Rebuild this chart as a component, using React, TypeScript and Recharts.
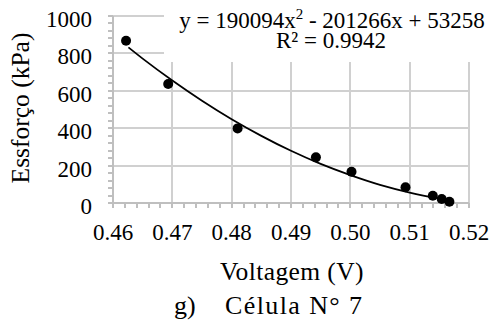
import React from "react";
import {
  ComposedChart,
  XAxis,
  YAxis,
  Line,
  Scatter,
  CartesianGrid,
} from "recharts";

// Measured points (Voltagem V, Esforço kPa)
const voltage = [0.4622, 0.4693, 0.481, 0.4942, 0.5002, 0.5093, 0.5139, 0.5154, 0.5167];
const stress = [868, 636, 399, 244, 167, 84, 39, 21, 7];

// Polynomial trend line
const trendVoltage = [0.4626, 0.465, 0.47, 0.475, 0.48, 0.485, 0.49, 0.495, 0.5, 0.505, 0.51, 0.515, 0.517];
const trendStress = [832, 772, 655, 547, 448, 359, 279, 209, 149, 97, 56, 24, 13];

// Axis ticks (major + minor)
const xTicks = [
  0.46, 0.462, 0.464, 0.466, 0.468, 0.47, 0.472, 0.474, 0.476, 0.478,
  0.48, 0.482, 0.484, 0.486, 0.488, 0.49, 0.492, 0.494, 0.496, 0.498,
  0.5, 0.502, 0.504, 0.506, 0.508, 0.51, 0.512, 0.514, 0.516, 0.518, 0.52,
];
const xMajor = [0.46, 0.47, 0.48, 0.49, 0.5, 0.51, 0.52];
const xMajorLabels = ["0.46", "0.47", "0.48", "0.49", "0.50", "0.51", "0.52"];
const yTicks = [
  0, 40, 80, 120, 160, 200, 240, 280, 320, 360, 400, 440, 480, 520, 560, 600,
  640, 680, 720, 760, 800, 840, 880, 920, 960, 1000,
];
const yMajor = [0, 200, 400, 600, 800, 1000];
const gridY = [200, 400, 600, 800, 1000];
const gridX = [0.47, 0.48, 0.49, 0.5, 0.51, 0.52];

const pointData = voltage.map((x, i) => ({ x, y: stress[i] }));
const trendData = trendVoltage.map((x, i) => ({ x, y: trendStress[i] }));

const FONT = '"Liberation Serif", "Times New Roman", serif';
const GRID = "#d0d0d0";
const AXIS = "#bfbfbf";

const XTick = (props: any) => {
  const v = props.payload.value;
  const idx = xMajor.findIndex((m) => Math.abs(m - v) < 1e-6);
  if (idx < 0) return null;
  return (
    <text x={props.x} y={props.y + 30} textAnchor="middle" fontFamily={FONT} fontSize={23} fill="#000">
      {xMajorLabels[idx]}
    </text>
  );
};

const YTick = (props: any) => {
  const v = props.payload.value;
  if (!yMajor.includes(v)) return null;
  return (
    <text x={props.x - 14} y={props.y + 11} textAnchor="end" fontFamily={FONT} fontSize={23} fill="#000">
      {v}
    </text>
  );
};

const Dot = (props: any) => <circle cx={props.cx} cy={props.cy} r={5} fill="#000" />;

const css = `
.recharts-cartesian-grid line, .recharts-cartesian-axis line { shape-rendering: crispEdges; }
`;

export default function App() {
  return (
    <div style={{ position: "absolute", left: 0, top: 0, width: 497, height: 327, background: "#fff" }}>
      <style>{css}</style>
      <ComposedChart width={497} height={327} margin={{ top: 16, right: 28, bottom: 94, left: 0 }}>
        <CartesianGrid
          stroke={GRID}
          strokeWidth={2}
          horizontalValues={gridY}
          verticalValues={gridX}
        />
        <XAxis
          dataKey="x"
          type="number"
          domain={[0.46, 0.52]}
          ticks={xTicks}
          interval={0}
          tick={<XTick />}
          tickSize={5}
          height={30}
          axisLine={{ stroke: AXIS, strokeWidth: 2 }}
          tickLine={{ stroke: AXIS, strokeWidth: 2 }}
        />
        <YAxis
          type="number"
          domain={[0, 1000]}
          ticks={yTicks}
          interval={0}
          tick={<YTick />}
          tickSize={5}
          width={113}
          axisLine={{ stroke: AXIS, strokeWidth: 2 }}
          tickLine={{ stroke: AXIS, strokeWidth: 2 }}
        />
        <Line
          data={trendData}
          dataKey="y"
          type="monotone"
          stroke="#000"
          strokeWidth={1.75}
          dot={false}
          activeDot={false}
          isAnimationActive={false}
        />
        <Scatter data={pointData} dataKey="y" shape={<Dot />} isAnimationActive={false} />
      </ComposedChart>
      <svg
        width={497}
        height={327}
        style={{ position: "absolute", left: 0, top: 0, pointerEvents: "none" }}
        fontFamily={FONT}
      >
        <rect x={164} y={0} width={333} height={62} fill="#fff" />
        <text x={332} y={28} textAnchor="middle" fontSize={23} fill="#000">
          y = 190094x
          <tspan fontSize={15} dy={-9}>2</tspan>
          <tspan dy={9}> - 201266x + 53258</tspan>
        </text>
        <text x={331} y={48} textAnchor="middle" fontSize={23} fill="#000">
          R² = 0.9942
        </text>
        <text x={29} y={108} textAnchor="middle" fontSize={25.5} fill="#000" transform="rotate(-90 29 108)">
          Essforço (kPa)
        </text>
        <text x={292} y={280} textAnchor="middle" fontSize={25.5} letterSpacing={0.4} fill="#000">
          Voltagem (V)
        </text>
        <text x={174} y={314} textAnchor="start" fontSize={26} fill="#000">
          g)
        </text>
        <text x={225} y={314} textAnchor="start" fontSize={26} letterSpacing={1.4} fill="#000">
          Célula N° 7
        </text>
      </svg>
    </div>
  );
}
